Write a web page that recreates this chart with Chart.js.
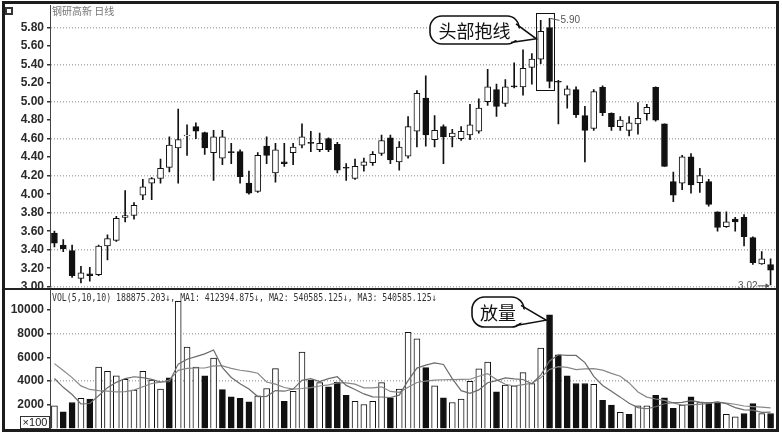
<!DOCTYPE html>
<html>
<head>
<meta charset="utf-8">
<script src="https://cdn.jsdelivr.net/npm/chart.js@4.4.0/dist/chart.umd.min.js"></script>
<style>
  body { margin: 0; background: #fff; }
  #wrap { position: relative; width: 782px; height: 434px; background: #fff; overflow: hidden; }
  canvas { position: absolute; left: 0; }
  #priceChart { top: 0; }
  #volChart { top: 289px; }
  #frame { position: absolute; left: 2px; top: 1px; width: 771px; height: 425px; border: 3px solid #1c1c1c; pointer-events: none; }
  #sep { position: absolute; left: 4px; top: 288px; width: 773px; height: 2px; background: #222; }
  #icon { position: absolute; left: 5px; top: 7px; width: 4px; height: 4px; border: 2px solid #333; }
  #title { position: absolute; left: 52px; top: 3px; font: 10px 'Noto Sans CJK SC', sans-serif; color: #777; }
  #volText { position: absolute; left: 52px; top: 291px; font: 8.2px 'DejaVu Sans Mono', monospace; color: #333;
             transform: scaleY(1.25); transform-origin: 0 0; white-space: pre; }
  #unit { position: absolute; left: 20px; top: 416px; width: 28px; height: 11px; border: 1px solid #333;
          font: 11px 'Liberation Sans', Arial, sans-serif; line-height: 11px; color: #222; text-align: center; }
</style>
</head>
<body>
<div id="wrap">
  <canvas id="priceChart" width="782" height="289"></canvas>
  <canvas id="volChart" width="782" height="145"></canvas>
  <div id="sep"></div>
  <div id="frame"></div>
  <div id="icon"></div>
  <div id="title">钢研高新 日线</div>
  <div id="volText">VOL(5,10,10) 188875.203↓, MA1: 412394.875↓, MA2: 540585.125↓, MA3: 540585.125↓</div>
  <div id="unit">×100</div>
</div>
<script>
// daily candles
const opens = [3.58, 3.45, 3.39, 3.09, 3.14, 3.13, 3.44, 3.50, 3.75, 3.77,
  3.99, 4.12, 4.17, 4.29, 4.50, 4.63, 4.73, 4.665, 4.45, 4.39,
  4.46, 4.46, 4.12, 4.03, 4.52, 4.23, 4.35, 4.45, 4.53, 4.56,
  4.48, 4.60, 4.54, 4.29, 4.17, 4.31, 4.34, 4.44, 4.61, 4.35,
  4.41, 4.68, 5.04, 4.59, 4.73, 4.62, 4.60, 4.64, 4.68, 5.00,
  5.13, 4.98, 5.17, 5.16, 5.37, 5.46, 5.80, 5.22, 5.07, 5.13,
  4.85, 4.71, 5.155, 4.875, 4.73, 4.69, 4.76, 4.87, 5.155, 4.76,
  4.135, 4.12, 4.405, 4.125, 4.135, 3.81, 3.65, 3.73, 3.75, 3.53,
  3.245, 3.24];
const closes = [3.47, 3.41, 3.12, 3.15, 3.12, 3.44, 3.52, 3.74, 3.77, 3.88,
  4.08, 4.17, 4.28, 4.53, 4.59, 4.64, 4.68, 4.50, 4.62, 4.62,
  4.45, 4.19, 4.01, 4.42, 4.42, 4.48, 4.33, 4.51, 4.62, 4.55,
  4.55, 4.48, 4.26, 4.28, 4.30, 4.35, 4.43, 4.58, 4.37, 4.51,
  4.73, 5.09, 4.64, 4.69, 4.62, 4.66, 4.68, 4.75, 4.93, 5.16,
  4.95, 5.16, 5.16, 5.36, 5.46, 5.76, 5.22, 5.21, 5.14, 4.86,
  4.69, 5.11, 4.88, 4.73, 4.80, 4.77, 4.82, 4.94, 4.80, 4.30,
  3.99, 4.405, 4.10, 4.20, 3.89, 3.64, 3.70, 3.70, 3.54, 3.26,
  3.30, 3.18];
const highs = [3.60, 3.51, 3.45, 3.22, 3.21, 3.45, 3.56, 3.76, 4.04, 3.91,
  4.16, 4.18, 4.38, 4.62, 4.92, 4.75, 4.77, 4.67, 4.69, 4.69,
  4.55, 4.48, 4.25, 4.45, 4.62, 4.55, 4.55, 4.55, 4.76, 4.68,
  4.66, 4.61, 4.56, 4.33, 4.38, 4.39, 4.46, 4.64, 4.64, 4.57,
  4.84, 5.12, 5.28, 4.85, 4.75, 4.70, 4.73, 4.97, 5.03, 5.35,
  5.19, 5.24, 5.42, 5.56, 5.52, 5.88, 5.90, 5.23, 5.17, 5.16,
  4.95, 5.13, 5.17, 4.88, 4.84, 4.84, 4.99, 4.97, 5.16, 4.76,
  4.24, 4.42, 4.44, 4.28, 4.16, 3.81, 3.81, 3.75, 3.78, 3.54,
  3.38, 3.30];
const lows = [3.43, 3.38, 3.10, 3.04, 3.06, 3.12, 3.29, 3.49, 3.70, 3.73,
  3.94, 3.94, 4.12, 4.24, 4.12, 4.42, 4.60, 4.43, 4.15, 4.32,
  4.33, 4.12, 4.00, 4.02, 4.33, 4.13, 4.30, 4.32, 4.50, 4.46,
  4.46, 4.46, 4.23, 4.15, 4.16, 4.25, 4.31, 4.42, 4.33, 4.26,
  4.39, 4.51, 4.52, 4.51, 4.33, 4.51, 4.58, 4.59, 4.66, 4.96,
  4.84, 4.95, 5.15, 5.07, 5.19, 5.41, 5.15, 4.76, 4.93, 4.83,
  4.35, 4.69, 4.85, 4.69, 4.69, 4.63, 4.65, 4.80, 4.79, 4.30,
  3.92, 4.05, 4.01, 4.02, 3.87, 3.60, 3.64, 3.60, 3.44, 3.24,
  3.24, 3.02];

// volume (x100 shares) and whether the bar is drawn solid
const vols = [1920, 1410, 2200, 2540, 2490, 5190, 4830, 4440, 4160, 3240,
  4830, 4080, 3320, 4270, 10750, 6880, 5190, 4440, 5950, 3280,
  2670, 2540, 2250, 2760, 3380, 5060, 2300, 3150, 6450, 4080,
  3880, 3510, 3930, 2810, 2300, 2030, 2300, 3880, 2590, 3320,
  8130, 7580, 5140, 3600, 2590, 2200, 2490, 3990, 5040, 5610,
  3100, 3660, 3600, 4720, 3800, 6790, 9600, 6230, 4440, 3800,
  3800, 3740, 2390, 1970, 1360, 1190, 1920, 1920, 2810, 2590,
  1700, 1970, 2670, 2200, 2200, 2200, 1190, 990, 1270, 2100,
  1270, 1270];
const volSolid = [0, 1, 1, 0, 1, 0, 0, 0, 0, 0,
  0, 0, 0, 1, 0, 0, 0, 1, 0, 1,
  1, 1, 1, 0, 0, 0, 1, 0, 0, 1,
  0, 1, 1, 1, 0, 0, 0, 0, 1, 0,
  0, 0, 1, 0, 1, 0, 0, 0, 0, 0,
  1, 0, 0, 0, 0, 0, 1, 1, 1, 1,
  1, 0, 1, 1, 0, 1, 0, 0, 1, 1,
  1, 0, 1, 0, 1, 1, 0, 0, 1, 1,
  0, 1];
const volMa5 = [4220, 3480, 2870, 2070, 2110, 2770, 3450, 3900, 4220, 4370,
  4300, 4150, 3930, 3950, 5440, 5850, 6070, 6300, 6630, 5150,
  4310, 3780, 3340, 2700, 2720, 3200, 3150, 3330, 4070, 4210,
  3970, 4210, 4370, 3640, 3290, 2920, 2670, 2660, 2620, 2820,
  4040, 5100, 5350, 5550, 5410, 4220, 3200, 2970, 3260, 3870,
  4050, 4280, 4200, 4140, 3780, 4510, 5700, 6230, 6170, 6170,
  5570, 4400, 3630, 3140, 2650, 2130, 1770, 1670, 1840, 2090,
  2190, 2200, 2350, 2230, 2150, 2250, 2090, 1760, 1570, 1550,
  1360, 1380];
const volMa10 = [5480, 4900, 4300, 3600, 3300, 3200, 3150, 3100, 3120, 3240,
  3530, 3800, 3910, 4090, 4910, 5080, 5110, 5110, 5290, 5290,
  5080, 4920, 4820, 4670, 3930, 3750, 3460, 3330, 3380, 3460,
  3590, 3680, 3850, 3860, 3750, 3440, 3440, 3520, 3130, 3060,
  3480, 3890, 4010, 4090, 4120, 4130, 4150, 4160, 4410, 4640,
  4130, 3740, 3590, 3700, 3820, 4280, 4990, 5220, 5160, 4970,
  5040, 5050, 4930, 4660, 4410, 3850, 3080, 2650, 2490, 2370,
  2160, 1980, 2010, 2030, 2120, 2220, 2150, 2050, 1900, 1850,
  1810, 1740];

const priceTicks = [3.0, 3.2, 3.4, 3.6, 3.8, 4.0, 4.2, 4.4, 4.6, 4.8, 5.0, 5.2, 5.4, 5.6, 5.8];
const priceGrid = [3.0, 3.4, 3.8, 4.2, 4.6, 5.0, 5.4, 5.8];
const volTicks = [2000, 4000, 6000, 8000, 10000];
const volGrid = [4000, 8000];

const days = opens.map((_, i) => 'D' + (i + 1));

// annotation anchors
const engulfIdx = [55, 56];
const engulfRange = [5.13, 5.96];
const hiIdx = highs.indexOf(Math.max(...highs));
const loIdx = lows.indexOf(Math.min(...lows));

const INK = '#111';
const AXIS_FONT = { family: "'Liberation Sans', Arial, sans-serif", size: 12, weight: 'bold' };

function near(list, v) {
  return list.some(g => Math.abs(g - v) < 1e-6);
}

function roundPath(ctx, x, y, w, h, r) {
  ctx.beginPath();
  ctx.moveTo(x + r, y);
  ctx.arcTo(x + w, y, x + w, y + h, r);
  ctx.arcTo(x + w, y + h, x, y + h, r);
  ctx.arcTo(x, y + h, x, y, r);
  ctx.arcTo(x, y, x + w, y, r);
  ctx.closePath();
}

// speech bubble with a tail towards (tx, ty)
function drawCallout(ctx, box, text, tx, ty) {
  const { x, y, w, h } = box;
  ctx.save();
  ctx.lineWidth = 1.6;
  ctx.strokeStyle = INK;
  ctx.fillStyle = '#fff';
  roundPath(ctx, x, y, w, h, h * 0.42);
  ctx.fill();
  ctx.stroke();
  const a1 = [x + w - 3, y + h * 0.28];
  const a2 = [x + w - 8, y + h - 1.5];
  ctx.beginPath();
  ctx.moveTo(a1[0] - 3, a1[1] + 1);
  ctx.lineTo(tx, ty);
  ctx.lineTo(a2[0] - 2, a2[1] - 2);
  ctx.closePath();
  ctx.fill();
  ctx.beginPath();
  ctx.moveTo(a1[0], a1[1]);
  ctx.lineTo(tx, ty);
  ctx.lineTo(a2[0], a2[1]);
  ctx.stroke();
  ctx.fillStyle = INK;
  ctx.font = "18px 'Noto Sans CJK SC', sans-serif";
  ctx.textAlign = 'center';
  ctx.textBaseline = 'middle';
  ctx.fillText(text, x + w / 2, y + h / 2 + 1);
  ctx.restore();
}

const priceMarks = {
  id: 'priceMarks',
  afterDatasetsDraw(chart) {
    const { ctx, scales: { x, y } } = chart;
    const step = x.getPixelForValue(1) - x.getPixelForValue(0);
    ctx.save();

    // box round the two engulfing candles
    const left = Math.round(x.getPixelForValue(engulfIdx[0]) - step / 2) + 0.5;
    const right = Math.round(x.getPixelForValue(engulfIdx[1]) + step / 2) + 0.5;
    const top = Math.round(y.getPixelForValue(engulfRange[1])) + 0.5;
    const bottom = Math.round(y.getPixelForValue(engulfRange[0])) + 0.5;
    ctx.strokeStyle = INK;
    ctx.lineWidth = 1;
    ctx.strokeRect(left, top, right - left, bottom - top);

    // highest price marker
    ctx.strokeStyle = '#555';
    ctx.fillStyle = '#555';
    ctx.font = "10px 'Liberation Sans', Arial, sans-serif";
    ctx.textBaseline = 'middle';
    const hx = x.getPixelForValue(hiIdx);
    const hy = y.getPixelForValue(highs[hiIdx]);
    ctx.beginPath();
    ctx.moveTo(hx + 1, hy);
    ctx.lineTo(hx + 10, hy + 2);
    ctx.stroke();
    ctx.textAlign = 'left';
    ctx.fillText(highs[hiIdx].toFixed(2), hx + 11, hy + 2);

    // lowest price marker
    const lx = x.getPixelForValue(loIdx);
    const ly = y.getPixelForValue(lows[loIdx]) + 1;
    ctx.beginPath();
    ctx.moveTo(lx - 13, ly);
    ctx.lineTo(lx - 2, ly);
    ctx.stroke();
    ctx.beginPath();
    ctx.moveTo(lx - 1, ly);
    ctx.lineTo(lx - 5, ly - 2.5);
    ctx.lineTo(lx - 5, ly + 2.5);
    ctx.closePath();
    ctx.fill();
    ctx.textAlign = 'right';
    ctx.fillText(lows[loIdx].toFixed(2), lx - 13, ly);
    ctx.restore();

    drawCallout(ctx, { x: 430, y: 16, w: 89, h: 28 }, '头部抱线',
      x.getPixelForValue(engulfIdx[0]) - step / 2, y.getPixelForValue(5.68));
  }
};

const volMarks = {
  id: 'volMarks',
  afterDatasetsDraw(chart) {
    const { ctx, scales: { x, y } } = chart;
    drawCallout(ctx, { x: 472, y: 8, w: 52, h: 30 }, '放量',
      x.getPixelForValue(engulfIdx[1]) - 3.5, y.getPixelForValue(9150));
  }
};

function yAxis(min, max, ticks, grid, fmt) {
  return {
    min, max,
    afterBuildTicks: s => { s.ticks = ticks.map(v => ({ value: v })); },
    afterFit: s => { s.width = 50; s.paddingTop = 0; s.paddingBottom = 0; },
    ticks: { callback: fmt, font: AXIS_FONT, color: '#2a2a2a', padding: 3 },
    grid: {
      color: c => near(grid, c.tick.value) ? '#adadad' : 'rgba(0,0,0,0)',
      lineWidth: 1.5,
      tickColor: '#333',
      tickLength: 3
    },
    border: { display: true, color: '#444', dash: [1, 2] }
  };
}

const baseOptions = {
  responsive: false,
  animation: false,
  devicePixelRatio: 1,
  plugins: { legend: { display: false }, tooltip: { enabled: false } }
};

new Chart(document.getElementById('priceChart'), {
  type: 'bar',
  data: {
    labels: days,
    datasets: [
      {
        label: 'body',
        data: opens.map((o, i) => [o, closes[i]]),
        backgroundColor: opens.map((o, i) => closes[i] >= o ? '#fff' : INK),
        borderColor: INK,
        borderWidth: 1,
        borderSkipped: false,
        barThickness: 6,
        grouped: false
      },
      {
        label: 'wick',
        data: lows.map((l, i) => [l, highs[i]]),
        backgroundColor: INK,
        borderWidth: 0,
        barThickness: 1,
        grouped: false
      }
    ]
  },
  options: {
    ...baseOptions,
    layout: { padding: { top: 5, bottom: 2.3, left: 0, right: 7 } },
    scales: {
      x: { display: false, offset: true },
      y: yAxis(3, 6.045, priceTicks, priceGrid, v => Number(v).toFixed(2))
    }
  },
  plugins: [priceMarks]
});

new Chart(document.getElementById('volChart'), {
  type: 'bar',
  data: {
    labels: days,
    datasets: [
      {
        type: 'line', label: 'MA5', data: volMa5,
        borderColor: '#6c6c6c', borderWidth: 1.2, pointRadius: 0, tension: 0
      },
      {
        type: 'line', label: 'MA10', data: volMa10,
        borderColor: '#888', borderWidth: 1.2, pointRadius: 0, tension: 0
      },
      {
        label: 'VOL',
        data: vols,
        backgroundColor: volSolid.map(s => s ? INK : '#fff'),
        borderColor: INK,
        borderWidth: 1,
        barThickness: 6
      }
    ]
  },
  options: {
    ...baseOptions,
    layout: { padding: { top: 1, bottom: 5.5, left: 0, right: 7 } },
    scales: {
      x: { display: false, offset: true },
      y: yAxis(0, 11700, volTicks, volGrid, v => String(v))
    }
  },
  plugins: [volMarks]
});
</script>
</body>
</html>
